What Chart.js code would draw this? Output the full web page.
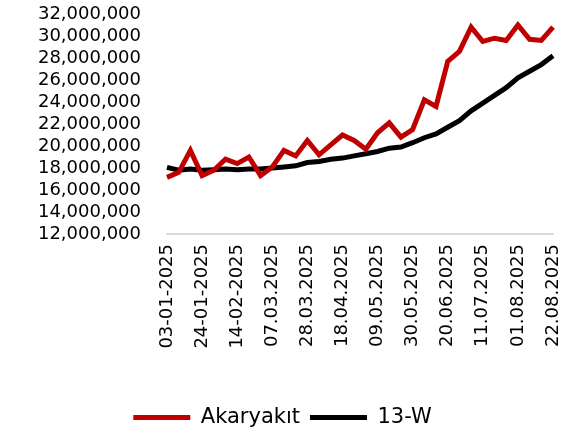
<!DOCTYPE html>
<html><head><meta charset="utf-8">
<script src="https://cdn.jsdelivr.net/npm/chart.js@4"></script>
<style>html,body{margin:0;padding:0;background:#fff}#w{width:565px;height:438px}</style>
</head><body><div id="w"><canvas id="c"></canvas></div>
<script>
const categories = ["03-01-2025","10-01-2025","17-01-2025","24-01-2025","31-01-2025","07-02-2025","14-02-2025","21-02-2025","28-02-2025","07.03.2025","14.03.2025","21.03.2025","28.03.2025","04.04.2025","11.04.2025","18.04.2025","25.04.2025","02.05.2025","09.05.2025","16.05.2025","23.05.2025","30.05.2025","06.06.2025","13.06.2025","20.06.2025","27.06.2025","04.07.2025","11.07.2025","18.07.2025","25.07.2025","01.08.2025","08.08.2025","15.08.2025","22.08.2025"];
const akaryakit = [17.15,17.6,19.6,17.3,17.8,18.8,18.4,19.0,17.3,18.1,19.6,19.1,20.5,19.2,20.1,21.0,20.5,19.7,21.2,22.1,20.8,21.5,24.2,23.6,27.7,28.6,30.8,29.5,29.8,29.6,31.0,29.7,29.6,30.8].map(v=>v*1e6);
const w13 = [18.06,17.8,17.9,17.8,17.85,17.9,17.85,17.9,17.9,18.0,18.1,18.2,18.5,18.6,18.8,18.9,19.1,19.3,19.5,19.8,19.9,20.3,20.75,21.1,21.7,22.3,23.2,23.9,24.6,25.3,26.2,26.8,27.4,28.2].map(v=>v*1e6);
const yTicks = {min:12000000, max:32000000, step:2000000};
const FONT = "DejaVu Sans";
new Chart(document.getElementById('c'), {
  type:'line',
  data:{labels:categories, datasets:[
    {label:'Akaryakıt', data:akaryakit, borderColor:'#C00000', backgroundColor:'#C00000', borderWidth:5, pointRadius:0, tension:0},
    {label:'13-W', data:w13, borderColor:'#000000', backgroundColor:'#000000', borderWidth:5, pointRadius:0, tension:0}
  ]},
  options:{
    responsive:true, maintainAspectRatio:false, animation:false,
    layout:{padding:{top:0,right:0,left:0,bottom:0}},
    plugins:{
      tooltip:{enabled:false},
      legend:{position:'bottom', labels:{color:'#000', font:{family:FONT,size:21}, boxWidth:57, boxHeight:5, padding:10,
        generateLabels:(chart)=>chart.data.datasets.map((d,i)=>({text:d.label, fillStyle:d.borderColor, strokeStyle:d.borderColor, lineWidth:0, datasetIndex:i, fontColor:'#000'}))}}
    },
    scales:{
      x:{offset:false, grid:{display:false, drawTicks:false}, border:{display:true,color:'#d9d9d9',width:2},
        ticks:{autoSkip:false, maxRotation:90, minRotation:90, color:'#000', font:{family:FONT,size:18}, padding:10,
          callback:function(v,i){return i%3===0?this.getLabelForValue(v):'';}},
        afterFit:(s)=>{s.height=163; s.paddingLeft=0; s.paddingRight=12;}},
      y:{min:yTicks.min, max:yTicks.max, grid:{display:false, drawTicks:false}, border:{display:false},
        ticks:{autoSkip:false, stepSize:yTicks.step, color:'#000', font:{family:FONT,size:18}, padding:26,
          callback:(v)=>v.toLocaleString('en-US')},
        afterFit:(s)=>{s.width=167; s.paddingTop=14; s.paddingBottom=0;}}
    }
  }
});
</script></body></html>
